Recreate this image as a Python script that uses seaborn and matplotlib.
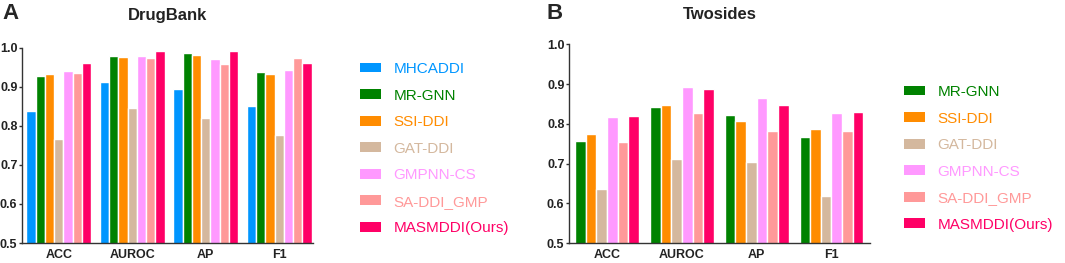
import numpy as np
import pandas as pd
import seaborn as sns
import matplotlib
matplotlib.use("Agg")
import matplotlib.pyplot as plt
from matplotlib.patches import Patch

metrics = ["ACC", "AUROC", "AP", "F1"]

models_a = ["MHCADDI", "MR-GNN", "SSI-DDI", "GAT-DDI", "GMPNN-CS", "SA-DDI_GMP", "MASMDDI(Ours)"]
models_b = ["MR-GNN", "SSI-DDI", "GAT-DDI", "GMPNN-CS", "SA-DDI_GMP", "MASMDDI(Ours)"]

# DrugBank values per model (ACC, AUROC, AP, F1)
db_mhcaddi = [0.838, 0.912, 0.894, 0.852]
db_mrgnn = [0.928, 0.979, 0.986, 0.937]
db_ssiddi = [0.932, 0.977, 0.982, 0.932]
db_gatddi = [0.765, 0.846, 0.820, 0.776]
db_gmpnn = [0.941, 0.979, 0.970, 0.943]
db_saddi = [0.935, 0.974, 0.958, 0.974]
db_masmddi = [0.960, 0.991, 0.991, 0.960]

# Twosides values per model (ACC, AUROC, AP, F1)
ts_mrgnn = [0.756, 0.842, 0.822, 0.767]
ts_ssiddi = [0.775, 0.848, 0.807, 0.786]
ts_gatddi = [0.636, 0.711, 0.705, 0.619]
ts_gmpnn = [0.818, 0.892, 0.864, 0.828]
ts_saddi = [0.754, 0.826, 0.783, 0.782]
ts_masmddi = [0.820, 0.887, 0.848, 0.830]

colors = {
    "MHCADDI": "#0096FF",
    "MR-GNN": "#008200",
    "SSI-DDI": "#FF8C00",
    "GAT-DDI": "#D4B89E",
    "GMPNN-CS": "#FF99FF",
    "SA-DDI_GMP": "#FF9999",
    "MASMDDI(Ours)": "#FF0066",
}

yticks = [0.5, 0.6, 0.7, 0.8, 0.9, 1.0]
ytick_labels = ["0.5", "0.6", "0.7", "0.8", "0.9", "1.0"]

df_a = pd.DataFrame({
    "metric": metrics * 7,
    "model": np.repeat(models_a, 4),
    "value": db_mhcaddi + db_mrgnn + db_ssiddi + db_gatddi + db_gmpnn + db_saddi + db_masmddi,
})
df_b = pd.DataFrame({
    "metric": metrics * 6,
    "model": np.repeat(models_b, 4),
    "value": ts_mrgnn + ts_ssiddi + ts_gatddi + ts_gmpnn + ts_saddi + ts_masmddi,
})

sns.set_style("white")
plt.rcParams["font.family"] = ["Liberation Sans", "DejaVu Sans"]

fig = plt.figure(figsize=(10.65, 2.63), dpi=100)
ax_a = fig.add_axes([22 / 1065, 1 - 243 / 263, (313 - 22) / 1065, (243 - 47.7) / 263])
ax_b = fig.add_axes([569 / 1065, 1 - 243 / 263, (870 - 569) / 1065, (243 - 44.3) / 263])

spine_col = "#333333"

def style(ax, xlim):
    ax.set_ylim(0.5, 1.0)
    ax.set_xlim(*xlim)
    ax.set_yticks(yticks)
    ax.set_yticklabels(ytick_labels)
    ax.set_xlabel("")
    ax.set_ylabel("")
    for s in ["top", "right"]:
        ax.spines[s].set_visible(False)
    for s in ["left", "bottom"]:
        ax.spines[s].set_color(spine_col)
        ax.spines[s].set_linewidth(1.0)
    ax.tick_params(axis="y", length=2.5, width=1, color=spine_col, pad=0.8,
                   labelsize=9, labelcolor="#222222", direction="out", left=True)
    ax.tick_params(axis="x", length=0, pad=4, labelsize=9, labelcolor="#222222")
    for lab in ax.get_yticklabels() + ax.get_xticklabels():
        lab.set_fontweight("bold")

sns.barplot(data=df_a, x="metric", y="value", hue="model", order=metrics,
            hue_order=models_a, palette=[colors[m] for m in models_a],
            width=0.88, saturation=1, legend=False, ax=ax_a, gap=0)
style(ax_a, (-0.5, 3.46))

sns.barplot(data=df_b, x="metric", y="value", hue="model", order=metrics,
            hue_order=models_b, palette=[colors[m] for m in models_b],
            width=0.855, saturation=1, legend=False, ax=ax_b, gap=0)
style(ax_b, (-0.51, 3.515))

ax_a.set_title("DrugBank", fontsize=12, fontweight="bold", color="#222222", pad=20)
ax_b.set_title("Twosides", fontsize=12, fontweight="bold", color="#222222", pad=18)

fig.text(2 / 1065, 1 - 3 / 263, "A", fontsize=16, fontweight="bold", va="top", ha="left")
fig.text(547 / 1065, 1 - 3 / 263, "B", fontsize=16, fontweight="bold", va="top", ha="left")

def add_legend(models, x, y):
    handles = [Patch(facecolor=colors[m], edgecolor="none") for m in models]
    leg = fig.legend(handles, models, loc="upper left", bbox_to_anchor=(x, y),
                     frameon=False, fontsize=11, handlelength=1.4, handleheight=0.6,
                     handletextpad=0.8, labelspacing=0.82, borderpad=0, borderaxespad=0)
    for t, m in zip(leg.get_texts(), models):
        t.set_color(colors[m])
    return leg

add_legend(models_a, 360 / 1065, 1 - 62 / 263)
add_legend(models_b, 904 / 1065, 1 - 85 / 263)

fig.savefig("out.png", dpi=100)
